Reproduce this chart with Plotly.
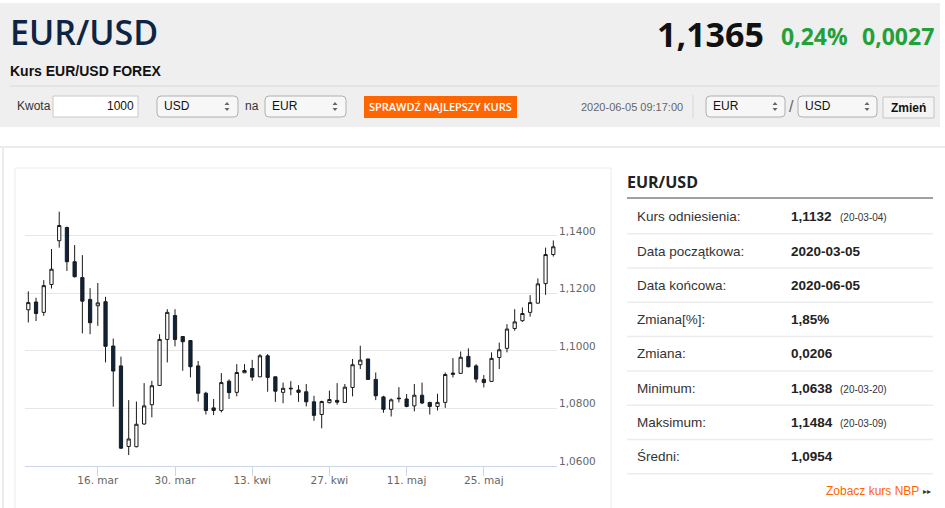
import pandas as pd
import plotly.graph_objects as go

W, H = 945, 508

# daily EUR/USD candles, trading days only
dates = pd.bdate_range("2020-03-03", "2020-06-05")
open_ = [1.1143, 1.1170, 1.1134, 1.1231, 1.1383, 1.1429, 1.1310, 1.1255, 1.1179, 1.1157,
         1.1171, 1.1017, 1.0948, 1.0668, 1.0667, 1.0746, 1.0813, 1.0880, 1.1040, 1.1123,
         1.1050, 1.1036, 1.0948, 1.0853, 1.0802, 1.0793, 1.0895, 1.0856, 1.0924, 1.0939,
         1.0910, 1.0983, 1.0910, 1.0856, 1.0868, 1.0864, 1.0858, 1.0823, 1.0779, 1.0820,
         1.0828, 1.0821, 1.0873, 1.0952, 1.0972, 1.0901, 1.0840, 1.0797, 1.0836, 1.0833,
         1.0809, 1.0846, 1.0821, 1.0807, 1.0821, 1.0923, 1.0922, 1.0981, 1.0948, 1.0901,
         1.0894, 1.0977, 1.1009, 1.1078, 1.1105, 1.1134, 1.1166, 1.1234, 1.1335]
high = [1.1207, 1.1185, 1.1246, 1.1354, 1.1484, 1.1432, 1.1368, 1.1333, 1.1218, 1.1236,
        1.1188, 1.1043, 1.0980, 1.0829, 1.0824, 1.0888, 1.0896, 1.1058, 1.1145, 1.1145,
        1.1051, 1.1037, 1.0965, 1.0858, 1.0833, 1.0923, 1.0901, 1.0954, 1.0954, 1.0969,
        1.0989, 1.0989, 1.0911, 1.0890, 1.0895, 1.0881, 1.0885, 1.0844, 1.0827, 1.0862,
        1.0888, 1.0885, 1.0972, 1.1018, 1.0973, 1.0925, 1.0844, 1.0835, 1.0874, 1.0850,
        1.0885, 1.0890, 1.0823, 1.0851, 1.0925, 1.0975, 1.0998, 1.1009, 1.0954, 1.0916,
        1.0995, 1.1029, 1.1093, 1.1145, 1.1151, 1.1194, 1.1252, 1.1359, 1.1384]
low = [1.1099, 1.1104, 1.1122, 1.1217, 1.1359, 1.1278, 1.1255, 1.1061, 1.1058, 1.1087,
       1.0960, 1.0806, 1.0659, 1.0638, 1.0665, 1.0743, 1.0769, 1.0879, 1.0960, 1.1016,
       1.0931, 1.0908, 1.0824, 1.0779, 1.0777, 1.0786, 1.0833, 1.0842, 1.0923, 1.0896,
       1.0909, 1.0858, 1.0823, 1.0818, 1.0846, 1.0823, 1.0807, 1.0757, 1.0731, 1.0818,
       1.0813, 1.0819, 1.0842, 1.0937, 1.0900, 1.0829, 1.0785, 1.0772, 1.0821, 1.0804,
       1.0790, 1.0815, 1.0779, 1.0793, 1.0802, 1.0908, 1.0921, 1.0943, 1.0890, 1.0873,
       1.0893, 1.0937, 1.0995, 1.1070, 1.1101, 1.1119, 1.1165, 1.1195, 1.1328]
close = [1.1168, 1.1130, 1.1227, 1.1284, 1.1436, 1.1310, 1.1258, 1.1173, 1.1098, 1.1167,
         1.1016, 1.0930, 1.0662, 1.0694, 1.0745, 1.0809, 1.0879, 1.1040, 1.1134, 1.1040,
         1.1032, 1.0945, 1.0853, 1.0793, 1.0793, 1.0890, 1.0855, 1.0925, 1.0932, 1.0909,
         1.0983, 1.0908, 1.0860, 1.0870, 1.0870, 1.0856, 1.0823, 1.0776, 1.0824, 1.0831,
         1.0822, 1.0874, 1.0952, 1.0968, 1.0901, 1.0844, 1.0797, 1.0830, 1.0834, 1.0807,
         1.0846, 1.0819, 1.0807, 1.0821, 1.0918, 1.0919, 1.0978, 1.0945, 1.0902, 1.0890,
         1.0974, 1.1004, 1.1076, 1.1101, 1.1130, 1.1168, 1.1233, 1.1335, 1.1362]

x_tick_dates = ["2020-03-16", "2020-03-30", "2020-04-13", "2020-04-27", "2020-05-11", "2020-05-25"]
x_tick_text = ["16. mar", "30. mar", "13. kwi", "27. kwi", "11. maj", "25. maj"]
y_tick_vals = [1.06, 1.08, 1.10, 1.12, 1.14, 1.16]
y_tick_text = ["1,0600", "1,0800", "1,1000", "1,1200", "1,1400", ""]

# side table
stat_labels = ["Kurs odniesienia:", "Data początkowa:", "Data końcowa:", "Zmiana[%]:",
               "Zmiana:", "Minimum:", "Maksimum:", "Średni:"]
stat_values = ["1,1132", "2020-03-05", "2020-06-05", "1,85%", "0,0206", "1,0638", "1,1484", "1,0954"]
stat_notes = ["(20-03-04)", "", "", "", "", "(20-03-20)", "(20-03-09)", ""]

last_rate = "1,1365"
change_pct = "0,24%"
change_abs = "0,0027"
quote_time = "2020-06-05 09:17:00"


def X(px):
    return px / W


def Y(py):
    return 1 - py / H


def rect(x0, y0, x1, y1, fill, line=None, lw=1):
    return dict(type="rect", xref="paper", yref="paper", x0=X(x0), x1=X(x1), y0=Y(y0), y1=Y(y1),
                fillcolor=fill, line=dict(color=line or fill, width=lw if line else 0), layer="below")


def hline(x0, x1, y, color, lw=1):
    return dict(type="line", xref="paper", yref="paper", x0=X(x0), x1=X(x1), y0=Y(y), y1=Y(y),
                line=dict(color=color, width=lw), layer="below")


def vline(x, y0, y1, color, lw=1):
    return dict(type="line", xref="paper", yref="paper", x0=X(x), x1=X(x), y0=Y(y0), y1=Y(y1),
                line=dict(color=color, width=lw), layer="below")


def rrect(x0, y0, x1, y1, r, fill, line):
    p = (f"M{X(x0 + r)},{Y(y0)} L{X(x1 - r)},{Y(y0)} Q{X(x1)},{Y(y0)} {X(x1)},{Y(y0 + r)} "
         f"L{X(x1)},{Y(y1 - r)} Q{X(x1)},{Y(y1)} {X(x1 - r)},{Y(y1)} L{X(x0 + r)},{Y(y1)} "
         f"Q{X(x0)},{Y(y1)} {X(x0)},{Y(y1 - r)} L{X(x0)},{Y(y0 + r)} Q{X(x0)},{Y(y0)} {X(x0 + r)},{Y(y0)} Z")
    return dict(type="path", xref="paper", yref="paper", path=p, fillcolor=fill,
                line=dict(color=line, width=1), layer="below")


def arrows(cx, cy):
    up = f"M{X(cx - 2.5)},{Y(cy - 1.5)} L{X(cx + 2.5)},{Y(cy - 1.5)} L{X(cx)},{Y(cy - 4.5)} Z"
    dn = f"M{X(cx - 2.5)},{Y(cy + 1.5)} L{X(cx + 2.5)},{Y(cy + 1.5)} L{X(cx)},{Y(cy + 4.5)} Z"
    return [dict(type="path", xref="paper", yref="paper", path=s, fillcolor="#666",
                 line=dict(width=0), layer="below") for s in (up, dn)]


def text(x, y, s, size=12, color="#333", family="Liberation Sans", weight=400, anchor="left"):
    return dict(x=X(x), y=Y(y), xref="paper", yref="paper", text=s, showarrow=False,
                xanchor=anchor, yanchor="middle",
                font=dict(size=size, color=color, family=family, weight=weight))


fig = go.Figure()
fig.add_trace(go.Candlestick(
    x=dates, open=open_, high=high, low=low, close=close,
    increasing=dict(line=dict(color="#1a1a1a", width=1), fillcolor="#ffffff"),
    decreasing=dict(line=dict(color="#1a1a1a", width=1), fillcolor="#0c2340"),
    hoverinfo="skip", showlegend=False,
))

shapes = [
    rect(0, 3, 940, 127, "#efefef"),
    hline(10, 938, 86, "#d8d8d8"),
    rect(53, 96, 138, 117, "#ffffff", "#c8c8c8"),
    rrect(157, 96, 238, 117, 4, "#f7f7f7", "#b0b0b0"),
    rrect(265, 96, 346, 117, 4, "#f7f7f7", "#b0b0b0"),
    rect(364, 96, 517, 118, "#ff6600"),
    vline(693, 95, 118, "#d8d8d8"),
    rrect(706, 96, 785, 117, 4, "#f7f7f7", "#b0b0b0"),
    rrect(798, 96, 877, 117, 4, "#f7f7f7", "#b0b0b0"),
    rect(883, 97, 934, 118, "#f4f4f4", "#c4c4c4"),
    hline(0, 945, 147, "#ececec", 2),
    vline(3, 147, 520, "#ececec", 2),
    # chart box, open at the bottom edge of the window
    hline(15, 611, 168, "#ebebeb"),
    vline(15, 168, 520, "#ebebeb"),
    vline(611, 168, 520, "#ebebeb"),
    hline(627, 933, 198, "#a0a0a0", 2),
]
for cx in (227, 335, 775, 867):
    shapes += arrows(cx, 106.5)
row_y = [216.7 + 34.3 * i for i in range(len(stat_labels))]
for ry in row_y:
    shapes.append(hline(627, 933, ry + 17, "#ececec", 1.5))

ann = [
    text(8, 32, "EUR/USD", 34, "#0e2444", "Open Sans", 600),
    text(8, 71, "Kurs EUR/USD FOREX", 14, "#111", weight=700),
    text(766, 34, last_rate, 34, "#111", "Open Sans", 700, "right"),
    text(779, 36, change_pct, 23, "#23a03a", "Open Sans", 700),
    text(860, 36, change_abs, 23, "#23a03a", "Open Sans", 700),
    text(15, 106.5, "Kwota"),
    text(136, 106.5, "1000", color="#111", anchor="right"),
    text(162, 106.5, "USD", color="#111"),
    text(243, 106.5, "na"),
    text(270, 106.5, "EUR", color="#111"),
    text(440.5, 107, "SPRAWDŹ NAJLEPSZY KURS", 11, "#ffffff", "Open Sans", 600, "center"),
    text(685, 107, quote_time, 11, "#666", anchor="right"),
    text(711, 106.5, "EUR", color="#111"),
    text(791, 106.5, "/", 16, "#666", anchor="center"),
    text(803, 106.5, "USD", color="#111"),
    text(908.5, 107.5, "Zmień", 12, "#111", weight=700, anchor="center"),
    text(625, 182, "EUR/USD", 16, "#222", "Open Sans", 700),
    text(921, 491, "Zobacz kurs NBP", 12, "#ff6600", anchor="right"),
    text(933, 491, "▸▸", 8, "#333", "DejaVu Sans", anchor="right"),
]
for ry, lab, val, note in zip(row_y, stat_labels, stat_values, stat_notes):
    ann.append(text(635, ry, lab, 13.5, "#333"))
    ann.append(text(789, ry, val, 13.5, "#222", weight=700))
    if note:
        ann.append(text(838, ry + 1, note, 10, "#333"))

fig.update_layout(
    width=W, height=H,
    margin=dict(l=0, r=0, t=0, b=0, pad=0),
    paper_bgcolor="#ffffff", plot_bgcolor="#ffffff",
    showlegend=False, boxgap=0.4,
    shapes=shapes, annotations=ann,
    xaxis=dict(
        domain=[X(25), X(557)],
        type="date",
        range=["2020-03-02 13:40", "2020-06-05 11:30"],
        rangebreaks=[dict(bounds=["sat", "mon"])],
        rangeslider=dict(visible=False),
        showgrid=False, zeroline=False,
        showline=True, linecolor="#ccd6eb", linewidth=1,
        ticks="outside", ticklen=9, tickcolor="#ccd6eb",
        tickvals=x_tick_dates, ticktext=x_tick_text,
        ticklabelstandoff=-5,
        tickfont=dict(family="DejaVu Sans", size=10.5, color="#666"),
    ),
    yaxis=dict(
        domain=[Y(466), Y(178.3)],
        range=[1.06, 1.16],
        side="right",
        showgrid=True, gridcolor="#e6e6e6", gridwidth=1,
        zeroline=False, showline=False, ticks="",
        tickvals=y_tick_vals, ticktext=y_tick_text,
        ticklabelshift=-5, ticklabelstandoff=1,
        tickfont=dict(family="DejaVu Sans", size=10.5, color="#666"),
    ),
)

# the page body has a default 8px margin; drop it so the figure sits at the window corner
fig.write_html("out.html", config={"displayModeBar": False},
               post_script="document.body.style.margin='0';document.body.style.overflow='hidden';")
